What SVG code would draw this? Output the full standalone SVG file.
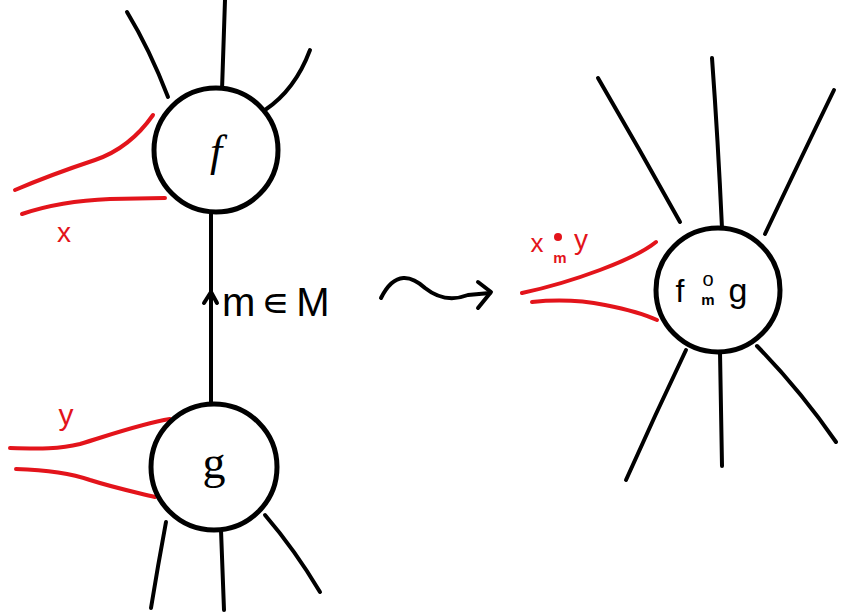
<svg xmlns="http://www.w3.org/2000/svg" width="850" height="613" viewBox="0 0 850 613">
<style>
.b{fill:none;stroke:#000;stroke-width:4;stroke-linecap:round;stroke-linejoin:round}
.r{fill:none;stroke:#e3141b;stroke-width:4;stroke-linecap:round;stroke-linejoin:round}
.c{fill:#fff;stroke:#000;stroke-width:5}
.t{font-family:"Liberation Sans",sans-serif;fill:#000}
.rt{font-family:"Liberation Sans",sans-serif;fill:#e3141b}
</style>
<rect width="850" height="613" fill="#fff"/>
<g id="connectors">
<path class="b" d="M127,12 Q150,50 168,97"/>
<path class="b" d="M225,0 L222,90"/>
<path class="b" d="M310,50 Q295,90 265,110"/>
<path class="b" d="M211,212 L211,402"/>
<path class="b" d="M204,303 L211,292 L217,303"/>
<path class="b" d="M166,522 Q158,565 151,608"/>
<path class="b" d="M221,530 L224,610"/>
<path class="b" d="M265,515 Q295,550 320,592"/>
<path class="b" d="M598,78 Q640,150 680,222"/>
<path class="b" d="M712,58 Q718,140 722,228"/>
<path class="b" d="M834,90 Q800,160 765,234"/>
<path class="b" d="M686,350 Q655,415 626,480"/>
<path class="b" d="M720,352 L722,466"/>
<path class="b" d="M757,346 Q800,390 836,442"/>
<path class="b" d="M381,298 C395,270 412,276 425,288 C440,300 455,300 468,295 L490,293"/>
<path class="b" d="M478,282 L491,292 L478,308"/>
<path class="r" d="M15,190 Q50,175 95,160 Q130,148 153,115"/>
<path class="r" d="M22,214 Q60,201 110,199 L165,198"/>
<path class="r" d="M10,448 C40,449 60,449 80,444 C110,435 140,424 170,419"/>
<path class="r" d="M16,469 C45,470 70,473 90,480 C115,488 135,492 155,497"/>
<path class="r" d="M522,293 Q560,285 600,270 Q640,255 656,242"/>
<path class="r" d="M532,302 Q570,298 605,305 Q640,312 657,320"/>
</g>
<g id="node-f">
<circle class="c" cx="216" cy="150" r="62"/>
<text class="t" x="216" y="166" font-size="44" font-style="italic" text-anchor="middle" style="font-family:'Liberation Serif',serif">f</text>
</g>
<g id="node-g">
<circle class="c" cx="214" cy="467" r="63"/>
<text class="t" x="214" y="478" font-size="46" text-anchor="middle" style="font-family:'Liberation Serif',serif">g</text>
</g>
<g id="node-fg">
<circle class="c" cx="718" cy="290" r="62"/>
<text class="t" x="680" y="302" font-size="32" text-anchor="middle">f</text>
<text class="t" x="708" y="286" font-size="20" text-anchor="middle">o</text>
<text class="t" x="708" y="305" font-size="15" font-weight="bold" text-anchor="middle">m</text>
<text class="t" x="738" y="302" font-size="34" text-anchor="middle">g</text>
</g>
<g id="label-m">
<text class="t" x="222" y="316" font-size="40" letter-spacing="6">m∊M</text>
</g>
<g id="label-x">
<text class="rt" x="64" y="242" font-size="28" text-anchor="middle">x</text>
</g>
<g id="label-y">
<text class="rt" x="66" y="425" font-size="30" text-anchor="middle">y</text>
</g>
<g id="label-xy">
<text class="rt" x="537" y="252" font-size="26" text-anchor="middle">x</text>
<circle cx="558" cy="237" r="4" fill="#e3141b"/>
<text class="rt" x="560" y="263" font-size="15" font-weight="bold" text-anchor="middle">m</text>
<text class="rt" x="581" y="249" font-size="28" text-anchor="middle">y</text>
</g>
</svg>
